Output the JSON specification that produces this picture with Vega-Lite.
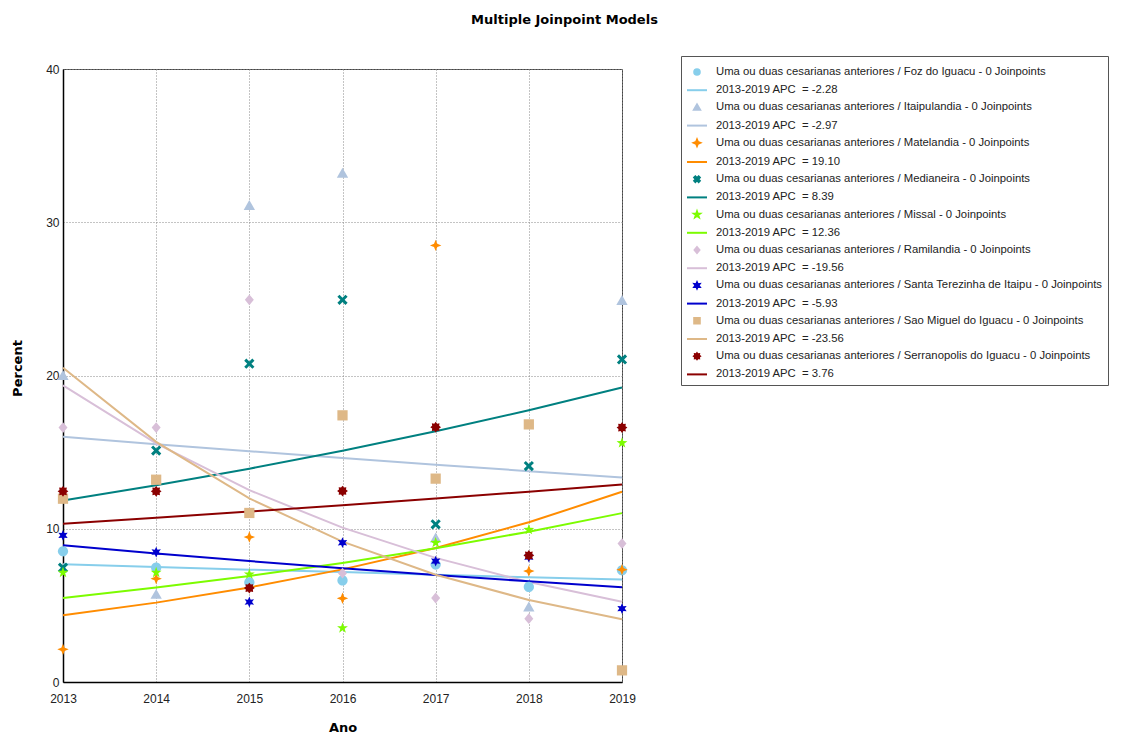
{
  "$schema": "https://vega.github.io/schema/vega-lite/v6.json",
  "width": 559,
  "height": 613,
  "autosize": {"type": "none"},
  "padding": {"left": 63, "top": 69, "right": 509, "bottom": 52},
  "background": "white",
  "title": {"text": "Multiple Joinpoint Models", "font": "DejaVu Sans", "fontSize": 13, "fontWeight": "bold", "color": "#000", "anchor": "middle", "frame": "group", "dx": 222, "offset": 16, "baseline": "bottom"},
  "datasets": {
    "obs": [
      {"label": "Uma ou duas cesarianas anteriores / Foz do Iguacu - 0 Joinpoints", "year": 2013, "pct": 8.53},
      {"label": "Uma ou duas cesarianas anteriores / Foz do Iguacu - 0 Joinpoints", "year": 2014, "pct": 7.46},
      {"label": "Uma ou duas cesarianas anteriores / Foz do Iguacu - 0 Joinpoints", "year": 2015, "pct": 6.5},
      {"label": "Uma ou duas cesarianas anteriores / Foz do Iguacu - 0 Joinpoints", "year": 2016, "pct": 6.63},
      {"label": "Uma ou duas cesarianas anteriores / Foz do Iguacu - 0 Joinpoints", "year": 2017, "pct": 7.66},
      {"label": "Uma ou duas cesarianas anteriores / Foz do Iguacu - 0 Joinpoints", "year": 2018, "pct": 6.2},
      {"label": "Uma ou duas cesarianas anteriores / Foz do Iguacu - 0 Joinpoints", "year": 2019, "pct": 7.29},
      {"label": "Uma ou duas cesarianas anteriores / Itaipulandia - 0 Joinpoints", "year": 2013, "pct": 20.0},
      {"label": "Uma ou duas cesarianas anteriores / Itaipulandia - 0 Joinpoints", "year": 2014, "pct": 5.72},
      {"label": "Uma ou duas cesarianas anteriores / Itaipulandia - 0 Joinpoints", "year": 2015, "pct": 31.1},
      {"label": "Uma ou duas cesarianas anteriores / Itaipulandia - 0 Joinpoints", "year": 2016, "pct": 33.2},
      {"label": "Uma ou duas cesarianas anteriores / Itaipulandia - 0 Joinpoints", "year": 2017, "pct": 9.4},
      {"label": "Uma ou duas cesarianas anteriores / Itaipulandia - 0 Joinpoints", "year": 2018, "pct": 4.9},
      {"label": "Uma ou duas cesarianas anteriores / Itaipulandia - 0 Joinpoints", "year": 2019, "pct": 24.9},
      {"label": "Uma ou duas cesarianas anteriores / Matelandia - 0 Joinpoints", "year": 2013, "pct": 2.13},
      {"label": "Uma ou duas cesarianas anteriores / Matelandia - 0 Joinpoints", "year": 2014, "pct": 6.74},
      {"label": "Uma ou duas cesarianas anteriores / Matelandia - 0 Joinpoints", "year": 2015, "pct": 9.46},
      {"label": "Uma ou duas cesarianas anteriores / Matelandia - 0 Joinpoints", "year": 2016, "pct": 5.46},
      {"label": "Uma ou duas cesarianas anteriores / Matelandia - 0 Joinpoints", "year": 2017, "pct": 28.49},
      {"label": "Uma ou duas cesarianas anteriores / Matelandia - 0 Joinpoints", "year": 2018, "pct": 7.24},
      {"label": "Uma ou duas cesarianas anteriores / Matelandia - 0 Joinpoints", "year": 2019, "pct": 7.33},
      {"label": "Uma ou duas cesarianas anteriores / Medianeira - 0 Joinpoints", "year": 2013, "pct": 7.46},
      {"label": "Uma ou duas cesarianas anteriores / Medianeira - 0 Joinpoints", "year": 2014, "pct": 15.1},
      {"label": "Uma ou duas cesarianas anteriores / Medianeira - 0 Joinpoints", "year": 2015, "pct": 20.77},
      {"label": "Uma ou duas cesarianas anteriores / Medianeira - 0 Joinpoints", "year": 2016, "pct": 24.94},
      {"label": "Uma ou duas cesarianas anteriores / Medianeira - 0 Joinpoints", "year": 2017, "pct": 10.29},
      {"label": "Uma ou duas cesarianas anteriores / Medianeira - 0 Joinpoints", "year": 2018, "pct": 14.09},
      {"label": "Uma ou duas cesarianas anteriores / Medianeira - 0 Joinpoints", "year": 2019, "pct": 21.05},
      {"label": "Uma ou duas cesarianas anteriores / Missal - 0 Joinpoints", "year": 2013, "pct": 7.14},
      {"label": "Uma ou duas cesarianas anteriores / Missal - 0 Joinpoints", "year": 2014, "pct": 7.14},
      {"label": "Uma ou duas cesarianas anteriores / Missal - 0 Joinpoints", "year": 2015, "pct": 7.03},
      {"label": "Uma ou duas cesarianas anteriores / Missal - 0 Joinpoints", "year": 2016, "pct": 3.52},
      {"label": "Uma ou duas cesarianas anteriores / Missal - 0 Joinpoints", "year": 2017, "pct": 9.09},
      {"label": "Uma ou duas cesarianas anteriores / Missal - 0 Joinpoints", "year": 2018, "pct": 9.94},
      {"label": "Uma ou duas cesarianas anteriores / Missal - 0 Joinpoints", "year": 2019, "pct": 15.6},
      {"label": "Uma ou duas cesarianas anteriores / Ramilandia - 0 Joinpoints", "year": 2013, "pct": 16.6},
      {"label": "Uma ou duas cesarianas anteriores / Ramilandia - 0 Joinpoints", "year": 2014, "pct": 16.6},
      {"label": "Uma ou duas cesarianas anteriores / Ramilandia - 0 Joinpoints", "year": 2015, "pct": 24.94},
      {"label": "Uma ou duas cesarianas anteriores / Ramilandia - 0 Joinpoints", "year": 2016, "pct": 7.1},
      {"label": "Uma ou duas cesarianas anteriores / Ramilandia - 0 Joinpoints", "year": 2017, "pct": 5.48},
      {"label": "Uma ou duas cesarianas anteriores / Ramilandia - 0 Joinpoints", "year": 2018, "pct": 4.13},
      {"label": "Uma ou duas cesarianas anteriores / Ramilandia - 0 Joinpoints", "year": 2019, "pct": 9.03},
      {"label": "Uma ou duas cesarianas anteriores / Santa Terezinha de Itaipu - 0 Joinpoints", "year": 2013, "pct": 9.57},
      {"label": "Uma ou duas cesarianas anteriores / Santa Terezinha de Itaipu - 0 Joinpoints", "year": 2014, "pct": 8.48},
      {"label": "Uma ou duas cesarianas anteriores / Santa Terezinha de Itaipu - 0 Joinpoints", "year": 2015, "pct": 5.22},
      {"label": "Uma ou duas cesarianas anteriores / Santa Terezinha de Itaipu - 0 Joinpoints", "year": 2016, "pct": 9.09},
      {"label": "Uma ou duas cesarianas anteriores / Santa Terezinha de Itaipu - 0 Joinpoints", "year": 2017, "pct": 7.89},
      {"label": "Uma ou duas cesarianas anteriores / Santa Terezinha de Itaipu - 0 Joinpoints", "year": 2018, "pct": 8.15},
      {"label": "Uma ou duas cesarianas anteriores / Santa Terezinha de Itaipu - 0 Joinpoints", "year": 2019, "pct": 4.79},
      {"label": "Uma ou duas cesarianas anteriores / Sao Miguel do Iguacu - 0 Joinpoints", "year": 2013, "pct": 11.96},
      {"label": "Uma ou duas cesarianas anteriores / Sao Miguel do Iguacu - 0 Joinpoints", "year": 2014, "pct": 13.2},
      {"label": "Uma ou duas cesarianas anteriores / Sao Miguel do Iguacu - 0 Joinpoints", "year": 2015, "pct": 11.03},
      {"label": "Uma ou duas cesarianas anteriores / Sao Miguel do Iguacu - 0 Joinpoints", "year": 2016, "pct": 17.4},
      {"label": "Uma ou duas cesarianas anteriores / Sao Miguel do Iguacu - 0 Joinpoints", "year": 2017, "pct": 13.27},
      {"label": "Uma ou duas cesarianas anteriores / Sao Miguel do Iguacu - 0 Joinpoints", "year": 2018, "pct": 16.81},
      {"label": "Uma ou duas cesarianas anteriores / Sao Miguel do Iguacu - 0 Joinpoints", "year": 2019, "pct": 0.76},
      {"label": "Uma ou duas cesarianas anteriores / Serranopolis do Iguacu - 0 Joinpoints", "year": 2013, "pct": 12.44},
      {"label": "Uma ou duas cesarianas anteriores / Serranopolis do Iguacu - 0 Joinpoints", "year": 2014, "pct": 12.44},
      {"label": "Uma ou duas cesarianas anteriores / Serranopolis do Iguacu - 0 Joinpoints", "year": 2015, "pct": 6.13},
      {"label": "Uma ou duas cesarianas anteriores / Serranopolis do Iguacu - 0 Joinpoints", "year": 2016, "pct": 12.46},
      {"label": "Uma ou duas cesarianas anteriores / Serranopolis do Iguacu - 0 Joinpoints", "year": 2017, "pct": 16.63},
      {"label": "Uma ou duas cesarianas anteriores / Serranopolis do Iguacu - 0 Joinpoints", "year": 2018, "pct": 8.26},
      {"label": "Uma ou duas cesarianas anteriores / Serranopolis do Iguacu - 0 Joinpoints", "year": 2019, "pct": 16.6}
    ],
    "fit": [
      {"label": "2013-2019 APC\u00a0 = -2.28", "year": 2013, "pct": 7.68},
      {"label": "2013-2019 APC\u00a0 = -2.28", "year": 2014, "pct": 7.5},
      {"label": "2013-2019 APC\u00a0 = -2.28", "year": 2015, "pct": 7.33},
      {"label": "2013-2019 APC\u00a0 = -2.28", "year": 2016, "pct": 7.17},
      {"label": "2013-2019 APC\u00a0 = -2.28", "year": 2017, "pct": 7.0},
      {"label": "2013-2019 APC\u00a0 = -2.28", "year": 2018, "pct": 6.84},
      {"label": "2013-2019 APC\u00a0 = -2.28", "year": 2019, "pct": 6.69},
      {"label": "2013-2019 APC\u00a0 = -2.97", "year": 2013, "pct": 16.0},
      {"label": "2013-2019 APC\u00a0 = -2.97", "year": 2014, "pct": 15.52},
      {"label": "2013-2019 APC\u00a0 = -2.97", "year": 2015, "pct": 15.06},
      {"label": "2013-2019 APC\u00a0 = -2.97", "year": 2016, "pct": 14.62},
      {"label": "2013-2019 APC\u00a0 = -2.97", "year": 2017, "pct": 14.18},
      {"label": "2013-2019 APC\u00a0 = -2.97", "year": 2018, "pct": 13.76},
      {"label": "2013-2019 APC\u00a0 = -2.97", "year": 2019, "pct": 13.35},
      {"label": "2013-2019 APC\u00a0 = 19.10", "year": 2013, "pct": 4.35},
      {"label": "2013-2019 APC\u00a0 = 19.10", "year": 2014, "pct": 5.18},
      {"label": "2013-2019 APC\u00a0 = 19.10", "year": 2015, "pct": 6.17},
      {"label": "2013-2019 APC\u00a0 = 19.10", "year": 2016, "pct": 7.35},
      {"label": "2013-2019 APC\u00a0 = 19.10", "year": 2017, "pct": 8.75},
      {"label": "2013-2019 APC\u00a0 = 19.10", "year": 2018, "pct": 10.42},
      {"label": "2013-2019 APC\u00a0 = 19.10", "year": 2019, "pct": 12.41},
      {"label": "2013-2019 APC\u00a0 = 8.39", "year": 2013, "pct": 11.85},
      {"label": "2013-2019 APC\u00a0 = 8.39", "year": 2014, "pct": 12.84},
      {"label": "2013-2019 APC\u00a0 = 8.39", "year": 2015, "pct": 13.92},
      {"label": "2013-2019 APC\u00a0 = 8.39", "year": 2016, "pct": 15.09},
      {"label": "2013-2019 APC\u00a0 = 8.39", "year": 2017, "pct": 16.36},
      {"label": "2013-2019 APC\u00a0 = 8.39", "year": 2018, "pct": 17.73},
      {"label": "2013-2019 APC\u00a0 = 8.39", "year": 2019, "pct": 19.22},
      {"label": "2013-2019 APC\u00a0 = 12.36", "year": 2013, "pct": 5.48},
      {"label": "2013-2019 APC\u00a0 = 12.36", "year": 2014, "pct": 6.16},
      {"label": "2013-2019 APC\u00a0 = 12.36", "year": 2015, "pct": 6.92},
      {"label": "2013-2019 APC\u00a0 = 12.36", "year": 2016, "pct": 7.77},
      {"label": "2013-2019 APC\u00a0 = 12.36", "year": 2017, "pct": 8.73},
      {"label": "2013-2019 APC\u00a0 = 12.36", "year": 2018, "pct": 9.81},
      {"label": "2013-2019 APC\u00a0 = 12.36", "year": 2019, "pct": 11.02},
      {"label": "2013-2019 APC\u00a0 = -19.56", "year": 2013, "pct": 19.35},
      {"label": "2013-2019 APC\u00a0 = -19.56", "year": 2014, "pct": 15.57},
      {"label": "2013-2019 APC\u00a0 = -19.56", "year": 2015, "pct": 12.52},
      {"label": "2013-2019 APC\u00a0 = -19.56", "year": 2016, "pct": 10.07},
      {"label": "2013-2019 APC\u00a0 = -19.56", "year": 2017, "pct": 8.1},
      {"label": "2013-2019 APC\u00a0 = -19.56", "year": 2018, "pct": 6.52},
      {"label": "2013-2019 APC\u00a0 = -19.56", "year": 2019, "pct": 5.24},
      {"label": "2013-2019 APC\u00a0 = -5.93", "year": 2013, "pct": 8.92},
      {"label": "2013-2019 APC\u00a0 = -5.93", "year": 2014, "pct": 8.39},
      {"label": "2013-2019 APC\u00a0 = -5.93", "year": 2015, "pct": 7.89},
      {"label": "2013-2019 APC\u00a0 = -5.93", "year": 2016, "pct": 7.43},
      {"label": "2013-2019 APC\u00a0 = -5.93", "year": 2017, "pct": 6.99},
      {"label": "2013-2019 APC\u00a0 = -5.93", "year": 2018, "pct": 6.57},
      {"label": "2013-2019 APC\u00a0 = -5.93", "year": 2019, "pct": 6.18},
      {"label": "2013-2019 APC\u00a0 = -23.56", "year": 2013, "pct": 20.5},
      {"label": "2013-2019 APC\u00a0 = -23.56", "year": 2014, "pct": 15.67},
      {"label": "2013-2019 APC\u00a0 = -23.56", "year": 2015, "pct": 11.98},
      {"label": "2013-2019 APC\u00a0 = -23.56", "year": 2016, "pct": 9.16},
      {"label": "2013-2019 APC\u00a0 = -23.56", "year": 2017, "pct": 7.0},
      {"label": "2013-2019 APC\u00a0 = -23.56", "year": 2018, "pct": 5.35},
      {"label": "2013-2019 APC\u00a0 = -23.56", "year": 2019, "pct": 4.09},
      {"label": "2013-2019 APC\u00a0 = 3.76", "year": 2013, "pct": 10.33},
      {"label": "2013-2019 APC\u00a0 = 3.76", "year": 2014, "pct": 10.72},
      {"label": "2013-2019 APC\u00a0 = 3.76", "year": 2015, "pct": 11.12},
      {"label": "2013-2019 APC\u00a0 = 3.76", "year": 2016, "pct": 11.54},
      {"label": "2013-2019 APC\u00a0 = 3.76", "year": 2017, "pct": 11.97},
      {"label": "2013-2019 APC\u00a0 = 3.76", "year": 2018, "pct": 12.42},
      {"label": "2013-2019 APC\u00a0 = 3.76", "year": 2019, "pct": 12.89}
    ]
  },
  "layer": [
    {
      "data": {"name": "fit"},
      "mark": {"type": "line", "strokeWidth": 2},
      "encoding": {
        "x": {"field": "year", "type": "quantitative", "scale": {"domain": [2013, 2019], "nice": false, "zero": false},
              "axis": {"values": [2013, 2014, 2015, 2016, 2017, 2018, 2019], "format": "d", "title": "Ano", "titleY": 45, "titleBaseline": "middle", "labelPadding": 11, "labelFlush": false}},
        "y": {"field": "pct", "type": "quantitative", "scale": {"domain": [0, 40], "nice": false, "zero": true},
              "axis": {"values": [0, 10, 20, 30, 40], "title": "Percent", "titleX": -46, "titleY": 299, "titleBaseline": "middle", "titleAngle": -90, "labelPadding": 4, "labelFlush": false}},
        "color": {
          "field": "label", "type": "nominal",
          "scale": {
            "domain": [
              "Uma ou duas cesarianas anteriores / Foz do Iguacu - 0 Joinpoints", "2013-2019 APC\u00a0 = -2.28",
              "Uma ou duas cesarianas anteriores / Itaipulandia - 0 Joinpoints", "2013-2019 APC\u00a0 = -2.97",
              "Uma ou duas cesarianas anteriores / Matelandia - 0 Joinpoints", "2013-2019 APC\u00a0 = 19.10",
              "Uma ou duas cesarianas anteriores / Medianeira - 0 Joinpoints", "2013-2019 APC\u00a0 = 8.39",
              "Uma ou duas cesarianas anteriores / Missal - 0 Joinpoints", "2013-2019 APC\u00a0 = 12.36",
              "Uma ou duas cesarianas anteriores / Ramilandia - 0 Joinpoints", "2013-2019 APC\u00a0 = -19.56",
              "Uma ou duas cesarianas anteriores / Santa Terezinha de Itaipu - 0 Joinpoints", "2013-2019 APC\u00a0 = -5.93",
              "Uma ou duas cesarianas anteriores / Sao Miguel do Iguacu - 0 Joinpoints", "2013-2019 APC\u00a0 = -23.56",
              "Uma ou duas cesarianas anteriores / Serranopolis do Iguacu - 0 Joinpoints", "2013-2019 APC\u00a0 = 3.76"
            ],
            "range": ["#87CEEB", "#87CEEB", "#B0C4DE", "#B0C4DE", "#FF8C00", "#FF8C00", "#008080", "#008080", "#7CFC00", "#7CFC00", "#D8BFD8", "#D8BFD8", "#0000CD", "#0000CD", "#DEB887", "#DEB887", "#8B0000", "#8B0000"]
          },
          "legend": {
            "orient": "none", "legendX": 618, "legendY": -13, "title": null,
            "padding": 5, "strokeColor": "#555", "fillColor": "white",
            "labelFont": "Liberation Sans, Arial, sans-serif",
            "labelFontSize": 11.3, "labelColor": "#222", "labelLimit": 700,
            "rowPadding": 0.2, "symbolSize": 400, "symbolStrokeWidth": 2, "labelOffset": 8
          }
        }
      }
    },
    {
      "data": {"name": "obs"},
      "mark": {"type": "point", "filled": true, "opacity": 1, "size": 1338, "strokeWidth": 0},
      "encoding": {
        "x": {"field": "year", "type": "quantitative"},
        "y": {"field": "pct", "type": "quantitative"},
        "color": {"field": "label", "type": "nominal"},
        "shape": {
          "field": "label", "type": "nominal", "legend": null,
          "scale": {
            "domain": [
              "Uma ou duas cesarianas anteriores / Foz do Iguacu - 0 Joinpoints", "2013-2019 APC\u00a0 = -2.28",
              "Uma ou duas cesarianas anteriores / Itaipulandia - 0 Joinpoints", "2013-2019 APC\u00a0 = -2.97",
              "Uma ou duas cesarianas anteriores / Matelandia - 0 Joinpoints", "2013-2019 APC\u00a0 = 19.10",
              "Uma ou duas cesarianas anteriores / Medianeira - 0 Joinpoints", "2013-2019 APC\u00a0 = 8.39",
              "Uma ou duas cesarianas anteriores / Missal - 0 Joinpoints", "2013-2019 APC\u00a0 = 12.36",
              "Uma ou duas cesarianas anteriores / Ramilandia - 0 Joinpoints", "2013-2019 APC\u00a0 = -19.56",
              "Uma ou duas cesarianas anteriores / Santa Terezinha de Itaipu - 0 Joinpoints", "2013-2019 APC\u00a0 = -5.93",
              "Uma ou duas cesarianas anteriores / Sao Miguel do Iguacu - 0 Joinpoints", "2013-2019 APC\u00a0 = -23.56",
              "Uma ou duas cesarianas anteriores / Serranopolis do Iguacu - 0 Joinpoints", "2013-2019 APC\u00a0 = 3.76"
            ],
            "range": [
              "M0.28,0A0.28,0.28,0,1,1,-0.28,0A0.28,0.28,0,1,1,0.28,0Z", "stroke",
              "M0,-0.295L0.31,0.246L-0.31,0.246Z", "stroke",
              "M0,-0.312L0.09,-0.09L0.312,0L0.09,0.09L0,0.312L-0.09,0.09L-0.312,0L-0.09,-0.09Z", "stroke",
              "M-0.28,-0.164L-0.164,-0.28L0,-0.115L0.164,-0.28L0.28,-0.164L0.115,0L0.28,0.164L0.164,0.28L0,0.115L-0.164,0.28L-0.28,0.164L-0.115,0Z", "stroke",
              "M0,-0.312L0.073,-0.101L0.296,-0.096L0.118,0.039L0.183,0.252L0,0.125L-0.183,0.252L-0.118,0.039L-0.296,-0.096L-0.073,-0.101Z", "stroke",
              "M0,-0.295L0.246,0L0,0.295L-0.246,0Z", "stroke",
              "M0,-0.295L0.074,-0.128L0.256,-0.148L0.148,0L0.256,0.148L0.074,0.128L0,0.295L-0.074,0.128L-0.256,0.148L-0.148,0L-0.256,-0.148L-0.074,-0.128Z", "stroke",
              "M-0.28,-0.28L0.28,-0.28L0.28,0.28L-0.28,0.28Z", "stroke",
              "M0,-0.295L0.079,-0.191L0.209,-0.209L0.191,-0.079L0.295,0L0.191,0.079L0.209,0.209L0.079,0.191L0,0.295L-0.079,0.191L-0.209,0.209L-0.191,0.079L-0.295,0L-0.191,-0.079L-0.209,-0.209L-0.079,-0.191Z", "stroke"
            ]
          }
        }
      }
    }
  ],
  "config": {
    "view": {"stroke": "#444", "strokeWidth": 1},
    "axis": {
      "grid": true, "gridColor": "#888", "gridDash": [1, 2], "gridWidth": 1,
      "domainColor": "#000", "domainWidth": 1.5, "ticks": false, "tickSize": 0,
      "labelFont": "Liberation Sans, Arial, sans-serif",
      "labelFontSize": 12, "labelColor": "#222",
      "titleFont": "DejaVu Sans", "titleFontSize": 13, "titleFontWeight": "bold", "titleColor": "#000"
    }
  }
}
